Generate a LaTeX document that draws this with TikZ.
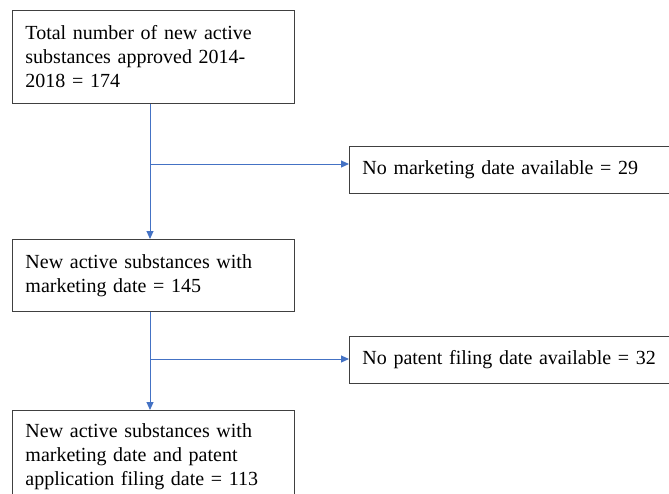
\documentclass[tikz,border=0pt]{standalone}
\usepackage{fontspec}
\setmainfont{Liberation Serif}
\usetikzlibrary{arrows.meta}

\definecolor{flowblue}{RGB}{68,114,196}

\tikzset{
  box/.style={draw=black!75, line width=0.9pt, anchor=north west, align=left,
    inner xsep=13pt, inner ysep=4pt, font=\fontsize{20}{24}\selectfont},
  flow/.style={draw=flowblue, line width=1pt, -{Triangle[length=8pt,width=7pt]}}
}

\begin{document}
\begin{tikzpicture}[x=1pt, y=-1pt]

  \useasboundingbox (0,0) rectangle (669,493);
  \clip (0,0) rectangle (669,493);

  \node[box, text width=256pt, minimum height=93pt] (total) at (12,10)
    {Total number of new active\\ substances approved 2014-\\ 2018 = 174};
  \node[box, text width=256pt, minimum height=72pt] (marketed) at (12,239)
    {New active substances with\\ marketing date = 145};
  \node[box, text width=256pt, minimum height=93pt] (patented) at (12,410)
    {New active substances with\\ marketing date and patent\\ application filing date = 113};

  \node[box, text width=330pt, minimum height=47pt] (nomarket) at (349,146)
    {No marketing date available = 29};
  \node[box, text width=330pt, minimum height=47pt] (nopatent) at (349,336)
    {No patent filing date available = 32};

  \coordinate (split1) at (150,164);
  \coordinate (split2) at (150,359);

  \draw[flow] (total.south -| split1) -- (marketed.north -| split1);
  \draw[flow] (split1) -- (nomarket.west |- split1);

  \draw[flow] (marketed.south -| split2) -- (patented.north -| split2);
  \draw[flow] (split2) -- (nopatent.west |- split2);

\end{tikzpicture}
\end{document}
